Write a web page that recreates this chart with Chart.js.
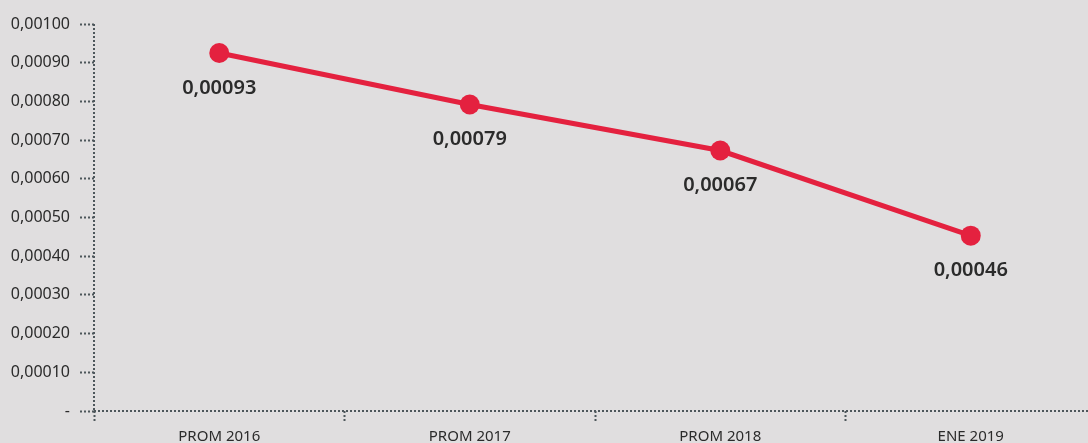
<!DOCTYPE html>
<html>
<head>
<meta charset="utf-8">
<script src="https://cdn.jsdelivr.net/npm/chart.js@4"></script>
<style>
  html, body { margin: 0; padding: 0; background: #e0dedf; overflow: hidden; }
  canvas { display: block; }
</style>
</head>
<body>
<canvas id="lineChart" width="1106" height="460"></canvas>
<script>
// Data
const categories = ['PROM 2016', 'PROM 2017', 'PROM 2018', 'ENE 2019'];
const values = [0.000925, 0.000792, 0.000673, 0.000453];
const valueLabels = ['0,00093', '0,00079', '0,00067', '0,00046'];

const lineColor = '#e4213f';
const axisColor = '#4d565b';

function fmtTick(v) {
    if (v === 0) return '-';
    return v.toFixed(5).replace('.', ',');
}

// Dotted axis lines (Chart.js draws the border solid)
const dottedAxes = {
    id: 'dottedAxes',
    beforeDatasetsDraw(chart) {
        const ctx = chart.ctx;
        const a = chart.chartArea;
        ctx.save();
        ctx.strokeStyle = axisColor;
        ctx.lineWidth = 2;
        ctx.setLineDash([2, 2]);
        ctx.beginPath();
        ctx.moveTo(a.left, a.top);
        ctx.lineTo(a.left, a.bottom);
        ctx.moveTo(a.left, a.bottom);
        ctx.lineTo(a.right, a.bottom);
        ctx.stroke();
        ctx.restore();
    }
};

// Draw the value labels under each point
const pointLabels = {
    id: 'pointLabels',
    afterDatasetsDraw(chart) {
        const ctx = chart.ctx;
        const meta = chart.getDatasetMeta(0);
        ctx.save();
        ctx.font = '600 20px "Noto Sans"';
        ctx.fillStyle = '#2b2b2b';
        ctx.textAlign = 'center';
        ctx.textBaseline = 'middle';
        meta.data.forEach((pt, i) => {
            ctx.fillText(valueLabels[i], pt.x, pt.y + 35);
        });
        ctx.restore();
    }
};

const ctx = document.getElementById('lineChart').getContext('2d');
new Chart(ctx, {
    type: 'line',
    data: {
        labels: categories,
        datasets: [{
            data: values,
            borderColor: lineColor,
            backgroundColor: lineColor,
            borderWidth: 5,
            pointRadius: 10,
            pointHoverRadius: 10,
            pointBorderWidth: 0,
            fill: false,
            tension: 0
        }]
    },
    options: {
        responsive: false,
        animation: false,
        layout: { padding: { top: 24, right: 0, bottom: 0, left: 0 } },
        plugins: {
            legend: { display: false },
            tooltip: { enabled: false }
        },
        scales: {
            x: {
                offset: true,
                grid: {
                    offset: true,
                    drawOnChartArea: false,
                    drawTicks: true,
                    tickLength: 11,
                    tickColor: axisColor,
                    tickWidth: 2,
                    tickBorderDash: [2, 2]
                },
                border: { display: false },
                ticks: {
                    color: '#2b2b2b',
                    font: { family: 'Noto Sans', size: 15 },
                    padding: 6,
                    maxRotation: 0
                },
                afterFit(s) { s.height = 49; }
            },
            y: {
                min: 0,
                max: 0.001,
                grid: {
                    drawOnChartArea: false,
                    drawTicks: true,
                    tickLength: 14,
                    tickColor: axisColor,
                    tickWidth: 2,
                    tickBorderDash: [2, 2]
                },
                border: { display: false },
                ticks: {
                    stepSize: 0.0001,
                    color: '#2b2b2b',
                    font: { family: 'Noto Sans', size: 16 },
                    padding: 10,
                    callback: fmtTick
                },
                afterFit(s) { s.width = 94; }
            }
        }
    },
    plugins: [dottedAxes, pointLabels]
});
</script>
</body>
</html>
